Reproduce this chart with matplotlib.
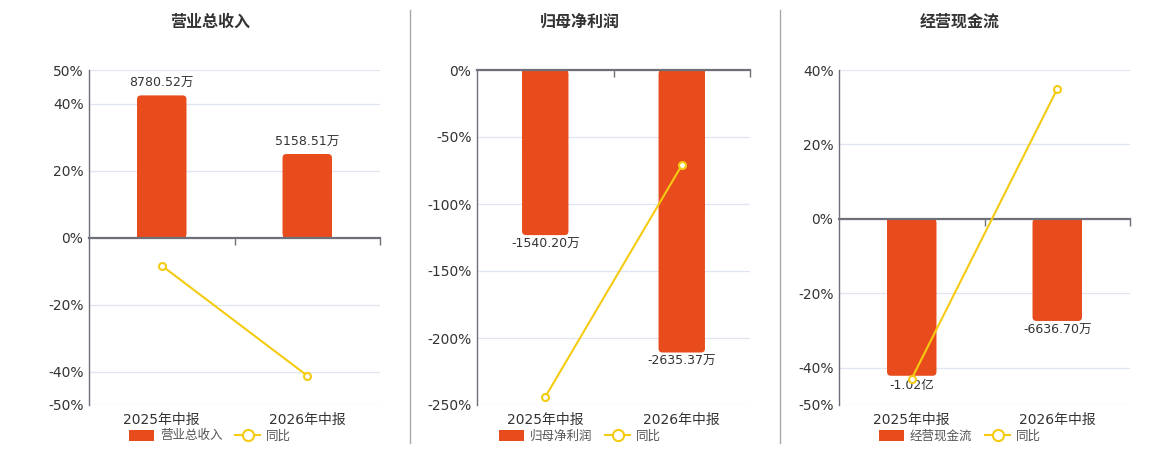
import matplotlib.pyplot as plt
from matplotlib.lines import Line2D
from matplotlib.patches import FancyBboxPatch, Patch

plt.rcParams["font.family"] = ["DejaVu Sans", "Noto Sans CJK SC"]

periods = ["2025年中报", "2026年中报"]
titles = ["营业总收入", "归母净利润", "经营现金流"]

# 金额（万元）
revenue = [8780.52, 5158.51]
net_profit = [-1540.20, -2635.37]
cash_flow = [-10200.0, -6636.70]
revenue_labels = ["8780.52万", "5158.51万"]
profit_labels = ["-1540.20万", "-2635.37万"]
cash_labels = ["-1.02亿", "-6636.70万"]

# 同比（%）
revenue_yoy = [-8.4, -41.25]
profit_yoy = [-244.0, -71.1]
cash_yoy = [-42.9, 34.9]

revenue_ticks = [50, 40, 20, 0, -20, -40, -50]
profit_ticks = [0, -50, -100, -150, -200, -250]
cash_ticks = [40, 20, 0, -20, -40, -50]

RED = "#E84C1C"
YELLOW = "#F5CB11"
AXIS = "#6E7079"
GRID = "#E0E6F1"
TEXT = "#333333"

W, H = 1160, 450
AX_H = 335  # 绘图区高度 px

# (面板数据, 轴位置 px, 柱轴每 1% 对应的万元, 标题/图例中心 px)
panels = [
    (revenue, revenue_labels, revenue_yoy, revenue_ticks, (89, 380), 207.0, 210),
    (net_profit, profit_labels, profit_yoy, profit_ticks, (477, 750), 12.5, 580),
    (cash_flow, cash_labels, cash_yoy, cash_ticks, (839, 1130), 242.0, 960),
]

fig = plt.figure(figsize=(W / 100, H / 100), dpi=100)

for title, (values, labels, yoy, ticks, (x0, x1), scale, cx) in zip(titles, panels):
    rect = [x0 / W, (H - 405) / H, (x1 - x0) / W, AX_H / H]
    ax = fig.add_axes(rect)
    lo, hi = min(ticks), max(ticks)
    pos = [0.5, 1.5]

    ax.set_xlim(0, 2)
    ax.set_ylim(lo * scale, hi * scale)
    bars = ax.bar(pos, values, width=0.34, color=RED, zorder=2)

    # 圆角柱端
    x_per_px = 2 / (x1 - x0)
    y_per_px = (hi - lo) * scale / AX_H
    for r in bars:
        bx, by, bw, bh = r.get_x(), r.get_y(), r.get_width(), r.get_height()
        ybot = min(by, by + bh)
        ax.add_patch(FancyBboxPatch(
            (bx, ybot), bw, abs(bh),
            boxstyle=f"round,pad=0,rounding_size={4 * x_per_px}",
            mutation_aspect=y_per_px / x_per_px,
            facecolor=RED, edgecolor="none", zorder=2))
        r.set_height(bh / 2)

    for x, v, lab in zip(pos, values, labels):
        if v >= 0:
            ax.annotate(lab, (x, v), xytext=(0, 4), textcoords="offset points",
                        ha="center", va="bottom", fontsize=9, color=TEXT)
        else:
            ax.annotate(lab, (x, v), xytext=(0, -2), textcoords="offset points",
                        ha="center", va="top", fontsize=9, color=TEXT)

    ax.set_axisbelow(True)
    ax.set_yticks([t * scale for t in ticks])
    ax.yaxis.grid(True, color=GRID, lw=0.9)
    ax.tick_params(axis="y", length=0, labelleft=False)

    for side in ("top", "right"):
        ax.spines[side].set_visible(False)
    ax.spines["left"].set_color(AXIS)
    ax.spines["left"].set_linewidth(1.0)
    ax.spines["bottom"].set_position(("data", 0))
    ax.spines["bottom"].set_color(AXIS)
    ax.spines["bottom"].set_linewidth(1.6)
    ax.spines["bottom"].set_zorder(3)
    ax.set_xticks([1, 2])
    ax.tick_params(axis="x", length=5, width=1, color=AXIS, direction="out",
                   labelbottom=False)

    sec = ax.secondary_xaxis("bottom")
    sec.set_xticks(pos, labels=periods)
    sec.tick_params(length=0, pad=6, labelsize=10, labelcolor=TEXT)
    sec.spines["bottom"].set_visible(False)

    axr = ax.twinx()
    axr.set_ylim(lo, hi)
    axr.plot(pos, yoy, color=YELLOW, lw=1.5, marker="o", ms=5,
             mfc="white", mec=YELLOW, mew=1.5, zorder=3)
    axr.set_yticks(ticks, labels=[f"{t}%" for t in ticks])
    axr.yaxis.tick_left()
    axr.tick_params(axis="y", length=0, pad=4, labelsize=10, labelcolor=TEXT)
    for s in axr.spines.values():
        s.set_visible(False)

    fig.text(cx / W, 1 - 22 / H, title, ha="center", va="center",
             fontsize=11.5, fontweight="bold", color=TEXT)

    handles = [
        Patch(facecolor=RED, edgecolor="none", label=title),
        Line2D([], [], color=YELLOW, lw=1.5, marker="o", ms=8, mfc="white",
               mec=YELLOW, mew=1.5, label="同比"),
    ]
    leg = fig.legend(handles=handles, loc="center",
                     bbox_to_anchor=(cx / W, 1 - 436 / H), ncol=2,
                     frameon=False, fontsize=9, handlelength=2.0,
                     handleheight=1.0, columnspacing=1.0, handletextpad=0.5)
    for t in leg.get_texts():
        t.set_color("#555555")

for xs in (410, 780):
    fig.add_artist(Line2D([xs / W, xs / W], [1 - 10 / H, 1 - 443 / H],
                          color="#AAAAAA", lw=1))

fig.savefig("out.png", dpi=100)
